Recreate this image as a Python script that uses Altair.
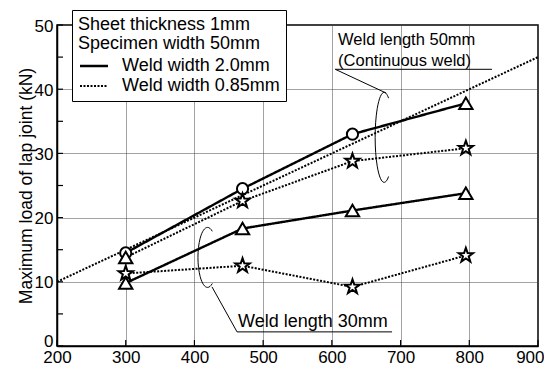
import altair as alt
import pandas as pd

FONT = "Liberation Sans"

# ---- data ----
strength = [300, 470, 630, 795]

load_50_w20 = [14.5, 24.5, 33.0, 37.8]
mode_50_w20 = ["Base Metal", "Base Metal", "Base Metal", "Portion R"]
load_50_w085 = [13.8, 22.6, 28.8, 30.8]
mode_50_w085 = ["Portion R", "Weld Metal", "Weld Metal", "Weld Metal"]
load_30_w20 = [9.8, 18.3, 21.1, 23.8]
mode_30_w20 = ["Portion R", "Portion R", "Portion R", "Portion R"]
load_30_w085 = [11.3, 12.5, 9.2, 14.1]
mode_30_w085 = ["Weld Metal", "Weld Metal", "Weld Metal", "Weld Metal"]

widths = ["Weld width 2.0mm", "Weld width 0.85mm"]
modes = ["Base Metal", "Portion R", "Weld Metal"]

continuous_x = [200, 900]
continuous_y = [10, 45]

x_ticks = [200, 300, 400, 500, 600, 700, 800, 900]
y_ticks = [0, 10, 20, 30, 40, 50]
y_minor = [0, 5, 10, 15, 20, 25, 30, 35, 40, 45, 50]

ellipse_50_x = [676]
ellipse_50_y = [32.5]
ellipse_30_x = [419]
ellipse_30_y = [13.8]

seg_x = [679, 605, 425.6, 462]
seg_y = [39.4, 43.1, 9.2, 2.2]
seg_x2 = [605, 833, 462, 687.6]
seg_y2 = [43.1, 43.1, 2.2, 2.2]

label50_text = ["Weld length 50mm", "(Continuous weld)"]
label50_x = [609, 609]
label50_y = [47.6, 44.4]
label30_text = ["Weld length 30mm"]
label30_x = [463.5]
label30_y = [3.7]

STAR = ("M0,-1L0.235,-0.324L0.951,-0.309L0.38,0.124L0.588,0.809"
        "L0,0.4L-0.588,0.809L-0.38,0.124L-0.951,-0.309L-0.235,-0.324Z")
ELL50 = "M0.1,-0.87A0.2,1 0 1 0 0.1,0.87"
ELL30 = "M0.16,-0.87A0.32,1 0 1 0 0.16,0.87"
LINE_SYM = "M-2,0L2,0"

# ---- tables ----
rows = []
for name, w, loads, ms in [
    ("50-2.0", widths[0], load_50_w20, mode_50_w20),
    ("50-0.85", widths[1], load_50_w085, mode_50_w085),
    ("30-2.0", widths[0], load_30_w20, mode_30_w20),
    ("30-0.85", widths[1], load_30_w085, mode_30_w085),
]:
    for s, l, m in zip(strength, loads, ms):
        rows.append({"strength": s, "load": l, "series": name, "width": w, "mode": m})
df = pd.DataFrame(rows)

cont_df = pd.DataFrame({"strength": continuous_x, "load": continuous_y})
xt_df = pd.DataFrame({"strength": x_ticks})
yt_df = pd.DataFrame({"load": y_minor})
seg_df = pd.DataFrame({"strength": seg_x, "load": seg_y, "s2": seg_x2, "l2": seg_y2})
e50_df = pd.DataFrame({"strength": ellipse_50_x, "load": ellipse_50_y})
e30_df = pd.DataFrame({"strength": ellipse_30_x, "load": ellipse_30_y})
t50_df = pd.DataFrame({"strength": label50_x, "load": label50_y, "t": label50_text})
t30_df = pd.DataFrame({"strength": label30_x, "load": label30_y, "t": label30_text})

xscale = alt.Scale(domain=[200, 900], nice=False, zero=False)
yscale = alt.Scale(domain=[0, 50], nice=False)

X = alt.X("strength:Q", scale=xscale, axis=alt.Axis(
    values=x_ticks, title="Tensile strength of steel (MPa)", grid=True,
    gridDash=[1, 1], gridColor="#444", gridWidth=1, ticks=False, tickSize=0,
    labelPadding=3, labelFontSize=17, labelFont=FONT, labelColor="black",
    labelAlign=alt.expr("datum.value == 900 ? 'right' : 'center'"),
    labelOffset=alt.expr("datum.value == 900 ? 6 : 0"),
    titleFont=FONT, titleFontSize=17.5, titleFontWeight="normal", titleColor="black",
    titleY=357, titleBaseline="alphabetic",
    domainColor="black", domainWidth=1.5, labelFlush=False, labelOverlap=False))
Y = alt.Y("load:Q", scale=yscale, axis=alt.Axis(
    values=y_ticks, title="Maximum load of lap joint (kN)", grid=True,
    gridDash=[1, 1], gridColor="#444", gridWidth=1, ticks=False, tickSize=0,
    labelPadding=4, labelFontSize=17, labelFont=FONT, labelColor="black",
    labelOffset=alt.expr("datum.value == 0 ? -5 : 1"),
    titleFont=FONT, titleFontSize=17.5, titleFontWeight="normal", titleColor="black",
    titleX=-26, titleBaseline="alphabetic",
    domainColor="black", domainWidth=1.5, labelFlush=False, labelOverlap=False))

cont = alt.Chart(cont_df).mark_line(color="black", strokeWidth=2, strokeDash=[2, 1.5]).encode(x=X, y=Y)

lines = alt.Chart(df).mark_line(color="black").encode(
    x=X, y=Y, detail="series:N",
    strokeDash=alt.StrokeDash("width:N", scale=alt.Scale(domain=widths, range=[[1, 0], [2, 1.5]]),
        legend=alt.Legend(
            title=["\u00a0\u00a0Sheet thickness 1mm", "\u00a0\u00a0Specimen width 50mm"],
            orient="none", legendX=15, legendY=-15, symbolType=LINE_SYM, symbolSize=196,
            symbolStrokeWidth=2, symbolStrokeColor="black", labelOffset=19, symbolOffset=7,
            padding=6, rowPadding=2, titlePadding=4, strokeColor="black", fillColor="white",
            titleFontSize=18, labelFontSize=18, titleFontWeight="normal", titleLineHeight=19,
            titleFont=FONT, labelFont=FONT, titleColor="black", labelColor="black",
            titleLimit=400, labelLimit=300, cornerRadius=0)),
    strokeWidth=alt.StrokeWidth("width:N", scale=alt.Scale(domain=widths, range=[2.4, 2.0]), legend=None),
)

points = alt.Chart(df).mark_point(filled=True, fill="white", stroke="black", strokeWidth=2, opacity=1).encode(
    x=X, y=Y,
    shape=alt.Shape("mode:N", scale=alt.Scale(domain=modes, range=["circle", "triangle-up", STAR]),
        legend=alt.Legend(
            title="Fracture mode", orient="none", legendX=16, legendY=78,
            symbolSize=170, symbolFillColor="white", symbolStrokeColor="black", symbolStrokeWidth=2,
            labelOffset=12, symbolOffset=3, padding=5, rowPadding=2, titlePadding=3,
            strokeColor="black", fillColor="white", titleFontSize=18, labelFontSize=18,
            titleFontWeight="normal", titleFont=FONT, labelFont=FONT, titleColor="black",
            labelColor="black", titleLimit=400, labelLimit=300, cornerRadius=0)),
    size=alt.Size("mode:N", scale=alt.Scale(domain=modes, range=[125, 230, 250]), legend=None),
)

xticks = alt.Chart(xt_df).mark_rule(color="black", strokeWidth=1.2).encode(
    x=X, y=alt.value(321), y2=alt.value(315))
yticks = alt.Chart(yt_df).mark_rule(color="black", strokeWidth=1.2).encode(
    y=Y, x=alt.value(0), x2=alt.value(6))

segs = alt.Chart(seg_df).mark_rule(color="black", strokeWidth=1).encode(
    x=X, y=Y, x2="s2:Q", y2="l2:Q")

e50 = alt.Chart(e50_df).mark_point(shape=ELL50, size=8100, stroke="black", strokeWidth=1,
                                   filled=False, opacity=1).encode(x=X, y=Y)
e30 = alt.Chart(e30_df).mark_point(shape=ELL30, size=3600, stroke="black", strokeWidth=1,
                                   filled=False, opacity=1).encode(x=X, y=Y)

t50 = alt.Chart(t50_df).mark_text(align="left", baseline="middle", font=FONT, fontSize=16.5,
                                  color="black").encode(x=X, y=Y, text="t:N")
t30 = alt.Chart(t30_df).mark_text(align="left", baseline="middle", font=FONT, fontSize=18,
                                  color="black").encode(x=X, y=Y, text="t:N")

chart = alt.layer(cont, lines, segs, e50, e30, xticks, yticks, points, t50, t30).properties(
    width=481, height=321,
    autosize=alt.AutoSizeParams(type="none"),
    padding={"left": 49, "top": 17, "right": 6, "bottom": 44},
    background="white",
).configure_view(stroke="black", strokeWidth=1.5)

chart.save("out.html", embed_options={"renderer": "svg", "actions": False})
